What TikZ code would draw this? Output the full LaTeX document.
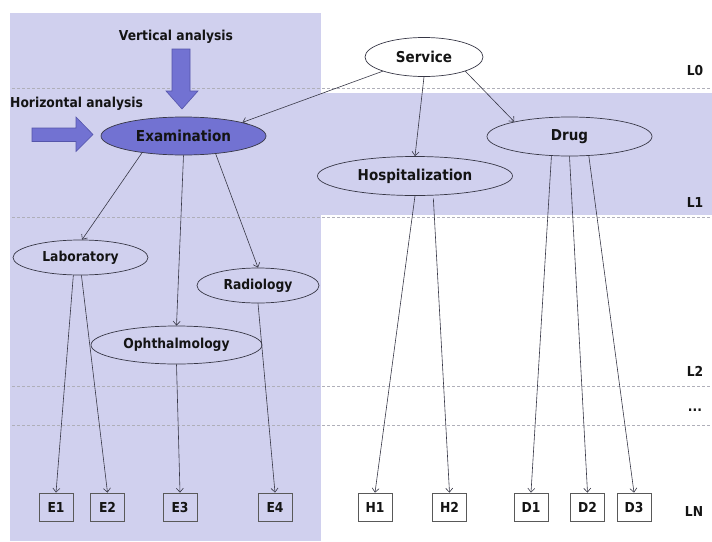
\documentclass[tikz,border=0pt]{standalone}
\usepackage{fontspec}
\setmainfont{DejaVu Sans Condensed}
\usetikzlibrary{shapes.geometric,arrows.meta}
\definecolor{band}{RGB}{208,208,238}
\definecolor{exfill}{RGB}{114,114,210}
\definecolor{edgec}{RGB}{55,55,70}
\definecolor{dashc}{RGB}{175,175,185}
\definecolor{blockdraw}{RGB}{85,85,170}
\definecolor{txt}{RGB}{20,20,20}
\begin{document}
\begin{tikzpicture}[x=1pt,y=-1pt,
  lvl/.style={ellipse,draw=edgec,line width=0.7pt,inner sep=0pt,text=txt,font=\fontsize{15}{18}\selectfont\bfseries},
  sub/.style={ellipse,draw=edgec,line width=0.7pt,inner sep=0pt,text=txt,font=\fontsize{13.7}{16}\selectfont\bfseries},
  leaf/.style={rectangle,draw=gray!70!black,line width=0.7pt,minimum width=34pt,minimum height=28pt,inner sep=0pt,text height=10pt,text depth=0pt,text=txt,font=\fontsize{13.7}{16}\selectfont\bfseries},
  levlab/.style={anchor=base,text=txt,font=\fontsize{13.7}{16}\selectfont\bfseries},
  conn/.style={draw=edgec,line width=0.6pt,-{Straight Barb[length=4pt,width=7pt]}},
  sep/.style={draw=dashc,line width=0.6pt,dash pattern=on 3pt off 2pt},
  block/.style={fill=exfill,draw=blockdraw,line width=0.6pt}]
\useasboundingbox (0,0) rectangle (712,541);
% bands
\fill[band] (10,13) rectangle (321,541);
\fill[band] (321,93) rectangle (712,215);
% level separators
\foreach \yy in {88,217.5,386,425} \draw[sep] (12,\yy) -- (712,\yy);
% ellipses
\node[lvl,minimum width=118pt,minimum height=39pt] (svc) at (424,57) {Service};
\node[lvl,fill=exfill,draw=edgec,minimum width=165pt,minimum height=38pt,font=\fontsize{15.1}{18}\selectfont\bfseries] (exam) at (183.5,136) {Examination};
\node[lvl,minimum width=195pt,minimum height=39pt] (hosp) at (415,176) {Hospitalization};
\node[lvl,minimum width=165pt,minimum height=39pt] (drug) at (569.5,136.5) {Drug};
\node[sub,minimum width=135pt,minimum height=35pt] (lab) at (80.5,257.5) {Laboratory};
\node[sub,minimum width=122pt,minimum height=35pt] (rad) at (258,285.5) {Radiology};
\node[sub,minimum width=171pt,minimum height=38pt] (oph) at (176.5,345) {Ophthalmology};
% leaves
\node[leaf] (e1) at (56,507) {E1};
\node[leaf] (e2) at (107.5,507) {E2};
\node[leaf] (e3) at (180,507) {E3};
\node[leaf] (e4) at (275,507) {E4};
\node[leaf,fill=white] (h1) at (375,507) {H1};
\node[leaf,fill=white] (h2) at (449.5,507) {H2};
\node[leaf,fill=white] (d1) at (531,507) {D1};
\node[leaf,fill=white] (d2) at (587.5,507) {D2};
\node[leaf,fill=white] (d3) at (634,507) {D3};
% level labels
\node[levlab] (l0) at (695,75) {L0};
\node[levlab] (l1) at (695,207) {L1};
\node[levlab] (l2) at (695,376) {L2};
\node[levlab] (ldots) at (695,411) {...};
\node[levlab] (ln) at (694,516) {LN};
% connectors
\draw[conn] (svc.-161) -- (exam.13);
\draw[conn] (svc.south) -- (hosp.north);
\draw[conn] (svc.-19) -- (drug.165);
\draw[conn] (exam.-158) -- (lab.85);
\draw[conn] (exam.south) -- (oph.north);
\draw[conn] (exam.-29) -- (rad.north);
\draw[conn] (lab.-112) -- (e1.north);
\draw[conn] (lab.-87) -- (e2.north);
\draw[conn] (oph.south) -- (e3.north);
\draw[conn] (rad.south) -- (e4.north);
\draw[conn] (hosp.south) -- (h1.north);
\draw[conn,shorten <=3pt] (hosp.-47) -- (h2.north);
\draw[conn] (drug.-133) -- (d1.north);
\draw[conn] (drug.south) -- (d2.north);
\draw[conn] (drug.-45) -- (d3.north);
% block arrows
\draw[block] (172,49) -- (190,49) -- (190,91) -- (198,91) -- (182,109) -- (166,91) -- (172,91) -- cycle;
\draw[block] (32,128) -- (76,128) -- (76,117) -- (93,134.5) -- (76,151.5) -- (76,141.5) -- (32,141.5) -- cycle;
% analysis labels
\node[text=txt,font=\fontsize{13.7}{16}\selectfont\bfseries] (va) at (176,37) {Vertical analysis};
\node[text=txt,anchor=west,inner sep=0pt,font=\fontsize{13.7}{16}\selectfont\bfseries] (ha) at (10,104) {Horizontal analysis};
\end{tikzpicture}
\end{document}
